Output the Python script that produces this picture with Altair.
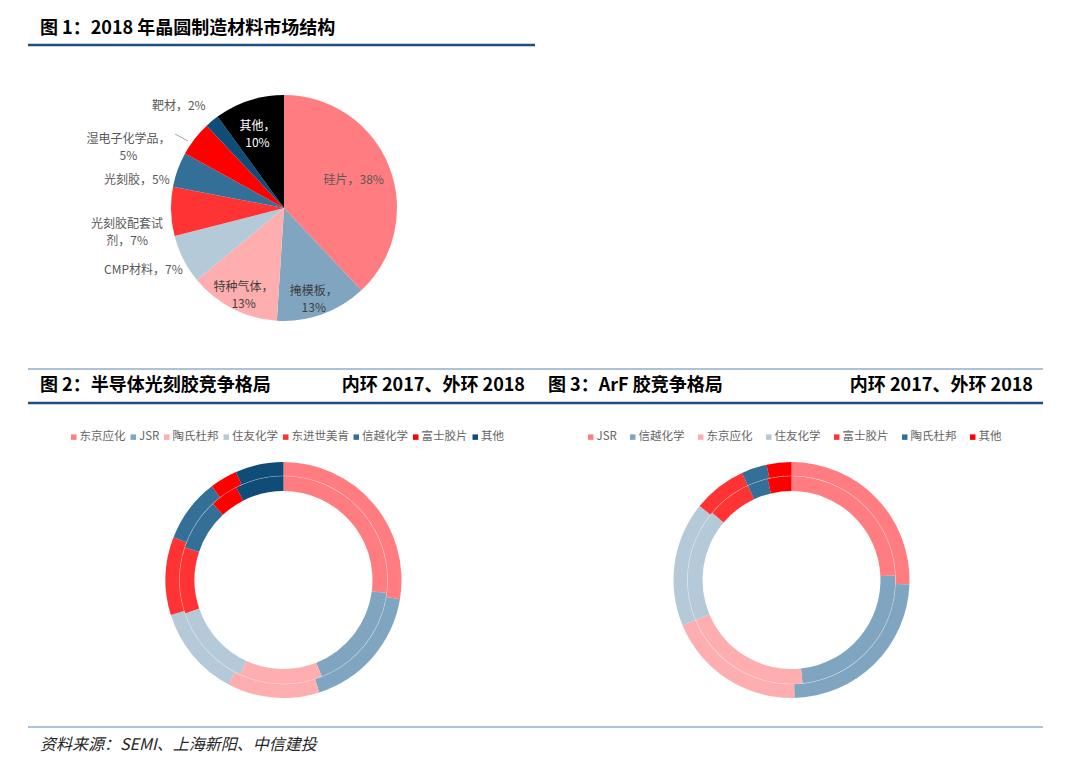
import math
import altair as alt
import pandas as pd

FONT = "Noto Sans CJK SC"

# ---------------- data ----------------
# Figure 1: 2018 wafer-fab materials market structure (%)
pie_cats = ["硅片", "掩模板", "特种气体", "CMP材料", "光刻胶配套试剂", "光刻胶", "湿电子化学品", "靶材", "其他"]
pie_vals = [38, 13, 13, 7, 7, 5, 5, 2, 10]
pie_labels = ["硅片，38%", "掩模板，\n13%", "特种气体，\n13%", "CMP材料，7%", "光刻胶配套试\n剂，7%",
              "光刻胶，5%", "湿电子化学品，\n5%", "靶材，2%", "其他，\n10%"]
pie_colors = ["#FF7C80", "#7FA5C0", "#FFAEAF", "#B4CAD9", "#FF3333", "#346F97", "#FF0000", "#0F4C77", "#000000"]

# Figure 2: photoresist competition, inner ring 2017, outer ring 2018 (%)
pr_cats = ["东京应化", "JSR", "陶氏杜邦", "住友化学", "东进世美肯", "信越化学", "富士胶片", "其他"]
pr_2017 = [27.0, 17.0, 12.8, 13.0, 10.3, 8.0, 4.4, 7.5]
pr_2018 = [27.6, 17.5, 12.6, 12.5, 10.7, 8.7, 3.8, 6.6]
pr_colors = ["#FF7C80", "#7FA5C0", "#FFAEAF", "#B4CAD9", "#FF3333", "#346F97", "#FF0000", "#0F4C77"]

# Figure 3: ArF photoresist competition (%)
arf_cats = ["JSR", "信越化学", "东京应化", "住友化学", "富士胶片", "陶氏杜邦", "其他"]
arf_2017 = [24.3, 24.0, 20.4, 17.5, 6.9, 3.2, 3.7]
arf_2018 = [25.6, 24.0, 19.1, 17.1, 7.3, 3.5, 3.4]
arf_colors = ["#FF7C80", "#7FA5C0", "#FFAEAF", "#B4CAD9", "#FF3333", "#346F97", "#FF0000"]

# ---------------- tables ----------------
pie_df = pd.DataFrame({"cat": pie_cats, "v": pie_vals, "lab": pie_labels,
                       "idx": list(range(len(pie_cats))), "ring": "2018"})


def ring_df(cats, v17, v18):
    rows = []
    for i, c in enumerate(cats):
        rows.append({"cat": c, "v": v17[i], "idx": i, "ring": "2017"})
        rows.append({"cat": c, "v": v18[i], "idx": i, "ring": "2018"})
    return pd.DataFrame(rows)


pr_df = ring_df(pr_cats, pr_2017, pr_2018)
arf_df = ring_df(arf_cats, arf_2017, arf_2018)
one = pd.DataFrame({"a": [0]})

TS = alt.Scale(domain=[0, 1], range=[0, 2 * math.pi])


def stacked(df):
    return (alt.Chart(df)
            .transform_joinaggregate(tot="sum(v)", groupby=["ring"])
            .transform_window(cum="sum(v)", sort=[alt.SortField("idx")], groupby=["ring"], frame=[None, 0])
            .transform_calculate(start="(datum.cum - datum.v) / datum.tot",
                                 end="datum.cum / datum.tot",
                                 mid="(datum.cum - datum.v / 2) / datum.tot"))


def txt(s, x, y, size, weight="normal", align="left", color="#000000", style="normal"):
    return alt.Chart(one).mark_text(text=s, align=align, baseline="middle", font=FONT, fontSize=size,
                                    fontWeight=weight, fontStyle=style, color=color).encode(
        x=alt.value(x), y=alt.value(y))


def hrule(x1, x2, y, w, color):
    return alt.Chart(one).mark_rule(color=color, strokeWidth=w).encode(
        x=alt.value(x1), x2=alt.value(x2), y=alt.value(y))


layers = []

# ---------------- headers / rules ----------------
layers += [
    txt("图 1：2018 年晶圆制造材料市场结构", 32, 21, 18, "bold"),
    hrule(20, 527, 37, 2.5, "#1F4E79"),
    hrule(20, 1035, 361, 1.2, "#5B87B0"),
    txt("图 2：半导体光刻胶竞争格局", 32, 378, 18, "bold"),
    txt("内环 2017、外环 2018", 517, 378, 18, "bold", align="right"),
    txt("图 3：ArF 胶竞争格局", 540, 378, 18, "bold"),
    txt("内环 2017、外环 2018", 1025, 378, 18, "bold", align="right"),
    hrule(20, 1035, 395, 2.5, "#1F4E79"),
    hrule(20, 1035, 719, 1.2, "#5A8AB8"),
    txt("资料来源：SEMI、上海新阳、中信建投", 32, 737, 16, style="italic", color="#262626"),
]

# ---------------- figure 1 pie ----------------
PCX, PCY, PR = 276, 200, 113
pie_base = stacked(pie_df)
layers.append(pie_base.mark_arc(radius=PR, radius2=0).encode(
    x=alt.value(PCX), y=alt.value(PCY),
    theta=alt.Theta("start:Q", stack=None, scale=TS), theta2=alt.Theta2("end:Q"),
    color=alt.Color("cat:N", scale=alt.Scale(domain=pie_cats, range=pie_colors), legend=None)))

# label layout: idx -> (radius, dx, dy, colour)
lab_layout = {
    0: (75, 0, 0, "#595959"),
    1: (88, 0, 0, "#404040"),
    2: (89, 0, 0, "#404040"),
    3: (150, -7, -6, "#595959"),
    4: (157, 0, 11, "#595959"),
    5: (150, -6, 23, "#595959"),
    6: (150, -37, 23, "#595959"),
    7: (140, -16, 6, "#595959"),
    8: (86, 0, 0, "#FFFFFF"),
}
for i, (r, dx, dy, col) in lab_layout.items():
    layers.append(pie_base.transform_filter(f"datum.idx == {i}").mark_text(
        radius=r, dx=dx, dy=dy, align="center", baseline="middle", lineBreak="\n",
        font=FONT, fontSize=12, color=col, lineHeight=17).encode(
        x=alt.value(PCX), y=alt.value(PCY),
        theta=alt.Theta("mid:Q", stack=None, scale=TS), text="lab:N"))

# leader line for 湿电子化学品
layers.append(alt.Chart(one).mark_rule(color="#A6A6A6", strokeWidth=1).encode(
    x=alt.value(167), y=alt.value(126), x2=alt.value(180), y2=alt.value(133)))


# ---------------- donuts ----------------
def donut(df, cats, colors, cx, cy, lx, ly, colpad, loff):
    base = stacked(df)
    leg = alt.Legend(orient="none", legendX=lx, legendY=ly, direction="horizontal", columns=len(cats),
                     title=None, symbolType="square", symbolSize=30, symbolStrokeWidth=0,
                     labelFont=FONT, labelFontSize=11.5, labelColor="#666666", labelOffset=loff,
                     columnPadding=colpad, padding=0)
    enc = dict(x=alt.value(cx), y=alt.value(cy),
               theta=alt.Theta("start:Q", stack=None, scale=TS), theta2=alt.Theta2("end:Q"),
               color=alt.Color("cat:N", scale=alt.Scale(domain=cats, range=colors), legend=leg))
    inner = base.transform_filter("datum.ring == '2017'").mark_arc(radius=104, radius2=89).encode(**enc)
    outer = base.transform_filter("datum.ring == '2018'").mark_arc(radius=118, radius2=104).encode(**enc)
    sep = alt.Chart(one).mark_arc(radius=104.5, radius2=103.7, theta=0, theta2=2 * math.pi,
                                  color="#FFFFFF", opacity=0.3).encode(x=alt.value(cx), y=alt.value(cy))
    return alt.layer(inner, outer, sep)


layers.append(donut(pr_df, pr_cats, pr_colors, 275.5, 572, 60, 423, 1.5, 0))
layers.append(donut(arf_df, arf_cats, arf_colors, 783.5, 572, 577, 423, 10, 0))

chart = (alt.layer(*layers)
         .resolve_scale(color="independent")
         .properties(width=1064, height=755, autosize="none", padding=0)
         .configure_view(stroke=None))

chart.save("out.html", embed_options={"renderer": "svg", "actions": False})
